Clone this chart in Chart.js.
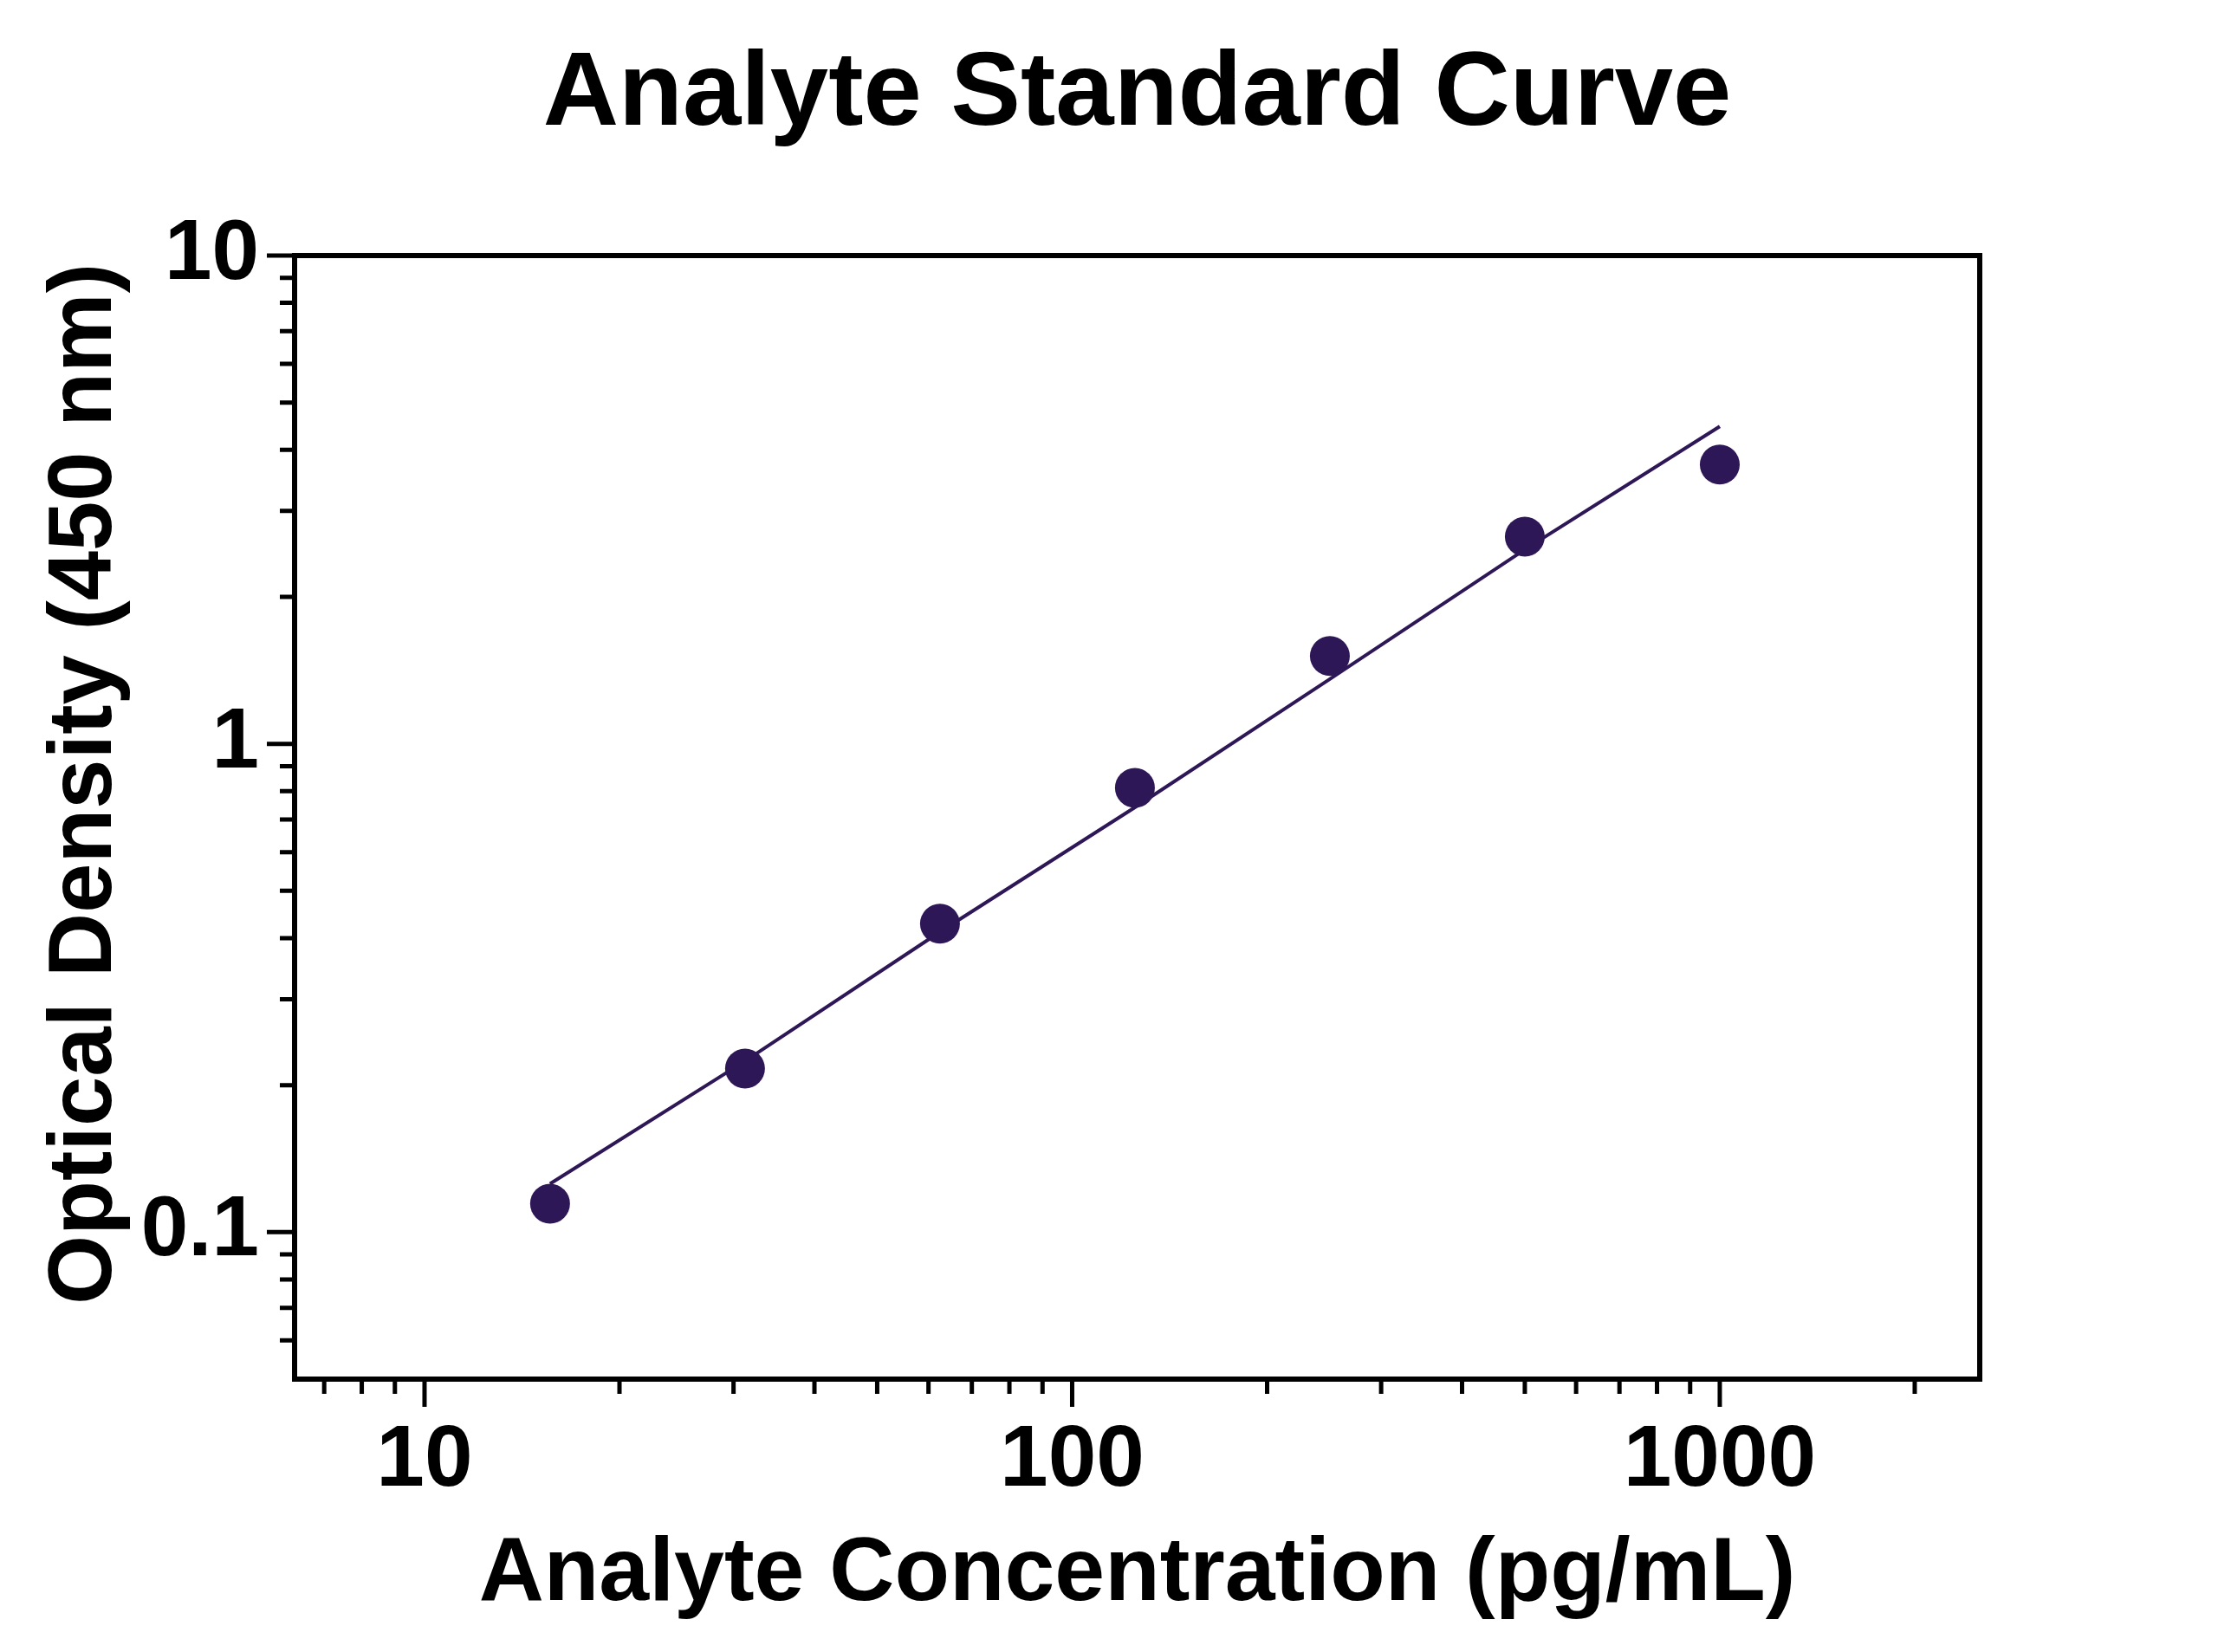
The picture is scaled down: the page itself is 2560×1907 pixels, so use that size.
<!DOCTYPE html>
<html>
<head>
<meta charset="utf-8">
<title>Analyte Standard Curve</title>
<script src="https://cdn.jsdelivr.net/npm/chart.js@4.4.1/dist/chart.umd.min.js"></script>
<style>
  html, body { margin: 0; padding: 0; background: #fff; }
  canvas { display: block; }
</style>
</head>
<body>
<canvas id="kurve" width="2560" height="1907"></canvas>
<script>
// Standardreihe (2-fach Verdünnung) und gemessene OD
const concentrations = [15.625, 31.25, 62.5, 125, 250, 500, 1000];
const odValues = [0.1144, 0.2163, 0.4282, 0.8128, 1.513, 2.657, 3.733];

const fitValues = [0.1256, 0.224, 0.412, 0.741, 1.357, 2.50, 4.467];

// Achsenbeschriftung
const xTickValues = [10, 100, 1000];
const xTickLabels = ['10', '100', '1000'];
const xMinorTicks = [7, 8, 9, 20, 30, 40, 50, 60, 70, 80, 90, 200, 300, 400, 500, 600, 700, 800, 900, 2000];
const yTickValues = [0.1, 1, 10];
const yTickLabels = ['0.1', '1', '10'];
const yMinorTicks = [0.06, 0.07, 0.08, 0.09, 0.2, 0.3, 0.4, 0.5, 0.6, 0.7, 0.8, 0.9, 2, 3, 4, 5, 6, 7, 8, 9];

const FONT = "'Liberation Sans', Arial, Helvetica, sans-serif";
const punktFarbe = '#2e1756';

// Rahmen + Haupt-/Nebenstriche + Titel
const achsenPlugin = {
  id: 'achsen',
  afterDraw(chart) {
    const ctx = chart.ctx;
    const a = chart.chartArea;
    const xs = chart.scales.x;
    const ys = chart.scales.y;
    ctx.save();
    ctx.strokeStyle = '#000';
    ctx.lineWidth = 6;
    ctx.strokeRect(a.left, a.top, a.right - a.left, a.bottom - a.top);

    ctx.lineWidth = 5;
    ctx.beginPath();
    xTickValues.forEach(v => {
      const px = xs.getPixelForValue(v);
      ctx.moveTo(px, a.bottom); ctx.lineTo(px, a.bottom + 32);
    });
    xMinorTicks.forEach(v => {
      const px = xs.getPixelForValue(v);
      ctx.moveTo(px, a.bottom); ctx.lineTo(px, a.bottom + 17);
    });
    yTickValues.forEach(v => {
      const py = ys.getPixelForValue(v);
      ctx.moveTo(a.left, py); ctx.lineTo(a.left - 32, py);
    });
    yMinorTicks.forEach(v => {
      const py = ys.getPixelForValue(v);
      ctx.moveTo(a.left, py); ctx.lineTo(a.left - 17, py);
    });
    ctx.stroke();

    ctx.fillStyle = '#000';
    ctx.textAlign = 'center';
    ctx.textBaseline = 'alphabetic';

    // Haupttitel, über dem Plotbereich zentriert
    ctx.font = 'bold 121px ' + FONT;
    ctx.fillText('Analyte Standard Curve', (a.left + a.right) / 2, 144);

    // y-Achsentitel (etwas über der Mitte, wie im Original)
    ctx.translate(128, 905);
    ctx.rotate(-Math.PI / 2);
    ctx.font = 'bold 103px ' + FONT;
    ctx.fillText('Optical Density (450 nm)', 0, 0);
    ctx.restore();
  }
};

const ctx = document.getElementById('kurve').getContext('2d');
new Chart(ctx, {
  type: 'scatter',
  data: {
    datasets: [
      {
        label: 'Standards',
        data: concentrations.map((c, i) => ({ x: c, y: odValues[i] })),
        backgroundColor: punktFarbe,
        borderWidth: 0,
        pointRadius: 23,
        pointHoverRadius: 23
      },
      {
        label: 'Fit',
        type: 'line',
        data: concentrations.map((c, i) => ({ x: c, y: fitValues[i] })),
        borderColor: punktFarbe,
        borderWidth: 4,
        pointRadius: 0,
        tension: 0,
        fill: false
      }
    ]
  },
  options: {
    responsive: false,
    devicePixelRatio: 1,
    animation: false,
    layout: { padding: { top: 295, right: 275, bottom: 0, left: 0 } },
    plugins: {
      legend: { display: false },
      tooltip: { enabled: false },
      title: { display: false }
    },
    scales: {
      x: {
        type: 'logarithmic',
        position: 'bottom',
        min: 6.3,
        max: 2520,
        afterBuildTicks: s => { s.ticks = xTickValues.map(v => ({ value: v })); },
        afterFit: s => { s.height = 315; },
        grid: { display: false, drawTicks: false },
        border: { display: false },
        ticks: {
          autoSkip: false,
          maxRotation: 0,
          padding: 35,
          color: '#000',
          font: { family: FONT, size: 100, weight: 'bold', lineHeight: 1.2 },
          callback: (v, i) => xTickLabels[i]
        },
        title: {
          display: true,
          text: 'Analyte Concentration (pg/mL)',
          color: '#000',
          font: { family: FONT, size: 104, weight: 'bold', lineHeight: 1.2 },
          padding: { top: 0, bottom: 26 }
        }
      },
      y: {
        type: 'logarithmic',
        min: 0.05,
        max: 10,
        afterBuildTicks: s => { s.ticks = yTickValues.map(v => ({ value: v })); },
        afterFit: s => { s.width = 340; },
        grid: { display: false, drawTicks: false },
        border: { display: false },
        ticks: {
          autoSkip: false,
          padding: 41,
          color: '#000',
          font: { family: FONT, size: 98, weight: 'bold', lineHeight: 1.2 },
          callback: (v, i) => yTickLabels[i]
        }
      }
    }
  },
  plugins: [achsenPlugin]
});
</script>
</body>
</html>
